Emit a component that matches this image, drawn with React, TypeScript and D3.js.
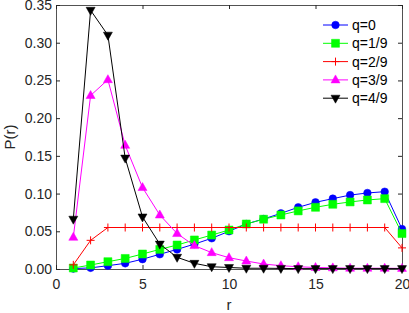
import React, { useRef, useEffect } from "react";
import * as d3 from "d3";

const rValues = d3.range(1, 21);
const xTicks = [0, 5, 10, 15, 20];
const yTicks = [0, 0.05, 0.1, 0.15, 0.2, 0.25, 0.3, 0.35];

const q0 = [0.0005, 0.0015, 0.0044, 0.0075, 0.013, 0.0195, 0.026, 0.033, 0.0407, 0.05, 0.0597, 0.0663, 0.0738, 0.0818, 0.0884, 0.0933, 0.098, 0.1008, 0.1025, 0.053];
const q1 = [0.0013, 0.0053, 0.0097, 0.014, 0.0199, 0.026, 0.0318, 0.0385, 0.045, 0.0517, 0.0597, 0.066, 0.0716, 0.077, 0.0818, 0.0858, 0.0889, 0.0915, 0.0933, 0.047];
const q2 = [0.0055, 0.038, 0.055, 0.055, 0.055, 0.055, 0.055, 0.055, 0.055, 0.055, 0.055, 0.055, 0.055, 0.055, 0.055, 0.055, 0.055, 0.055, 0.055, 0.028];
const q3 = [0.042, 0.23, 0.251, 0.164, 0.108, 0.0716, 0.047, 0.031, 0.0217, 0.015, 0.0106, 0.0066, 0.0044, 0.003, 0.002, 0.0015, 0.001, 0.001, 0.001, 0.0008];
const q4 = [0.066, 0.343, 0.31, 0.147, 0.069, 0.033, 0.0155, 0.0075, 0.003, 0.002, 0.001, 0.001, 0.0008, 0.0005, 0.0005, 0.0005, 0.0005, 0.0005, 0.0005, 0.0005];

const seriesNames = ["q=0", "q=1/9", "q=2/9", "q=3/9", "q=4/9"];
const seriesColors = ["#0000ff", "#00ff00", "#ff0000", "#ff00ff", "#000000"];
const seriesMarkers = ["circle", "square", "plus", "triUp", "triDown"];
const seriesValues = [q0, q1, q2, q3, q4];

const markerPath = (kind, s = 4) => {
  switch (kind) {
    case "circle":
      return d3.symbol(d3.symbolCircle, Math.PI * 3.8 * 3.8)();
    case "square":
      return `M${-s},${-s}H${s}V${s}H${-s}Z`;
    case "plus":
      return `M${-s},0H${s}M0,${-s}V${s}`;
    case "triUp":
      return `M0,${-s - 1}L${s + 0.5},${s - 1}L${-s - 0.5},${s - 1}Z`;
    case "triDown":
      return `M0,${s + 1}L${s + 0.5},${-s + 1}L${-s - 0.5},${-s + 1}Z`;
    default:
      return "";
  }
};

const App = () => {
  const svgRef = useRef();
  const width = 409;
  const height = 313;
  const margin = { top: 5, right: 7, bottom: 44, left: 56 };

  useEffect(() => {
    const svg = d3.select(svgRef.current);
    svg.selectAll("*").remove();

    const x = d3.scaleLinear().domain([0, 20]).range([margin.left, width - margin.right]);
    const y = d3.scaleLinear().domain([0, 0.35]).range([height - margin.bottom, margin.top]);
    const axisColor = "#262626";
    const font = "Liberation Sans, Arial, sans-serif";

    // axes box with inward ticks on all four sides
    const gx = svg
      .append("g")
      .attr("transform", `translate(0,${height - margin.bottom})`)
      .call(d3.axisBottom(x).tickValues(xTicks).tickSizeInner(-4).tickSizeOuter(0).tickPadding(10).tickFormat(d3.format("d")));
    const gxt = svg
      .append("g")
      .attr("transform", `translate(0,${margin.top})`)
      .call(d3.axisTop(x).tickValues(xTicks).tickSizeInner(-4).tickSizeOuter(0).tickFormat(() => ""));
    const gy = svg
      .append("g")
      .attr("transform", `translate(${margin.left},0)`)
      .call(d3.axisLeft(y).tickValues(yTicks).tickSizeInner(-4).tickSizeOuter(0).tickPadding(4).tickFormat(d3.format(".2f")));
    const gyr = svg
      .append("g")
      .attr("transform", `translate(${width - margin.right},0)`)
      .call(d3.axisRight(y).tickValues(yTicks).tickSizeInner(-4).tickSizeOuter(0).tickFormat(() => ""));

    [gx, gxt, gy, gyr].forEach((g) => {
      g.selectAll("line").attr("stroke", axisColor);
      g.select(".domain").attr("stroke", axisColor).attr("stroke-width", 0.8);
      g.selectAll("text").attr("fill", axisColor).style("font-size", "14px").style("font-family", font);
    });

    // lines and markers
    const line = d3
      .line()
      .x((d, i) => x(rValues[i]))
      .y((d) => y(d));

    seriesValues.forEach((vals, k) => {
      const color = seriesColors[k];
      svg
        .append("path")
        .datum(vals)
        .attr("fill", "none")
        .attr("stroke", color)
        .attr("stroke-width", 1)
        .attr("d", line);

      const isPlus = seriesMarkers[k] === "plus";
      svg
        .append("g")
        .selectAll("path")
        .data(vals)
        .join("path")
        .attr("transform", (d, i) => `translate(${x(rValues[i])},${y(d)})`)
        .attr("d", markerPath(seriesMarkers[k]))
        .attr("fill", isPlus ? "none" : color)
        .attr("stroke", color)
        .attr("stroke-width", isPlus ? 1 : 0.5);
    });

    // axis labels
    svg
      .append("text")
      .attr("x", x(10))
      .attr("y", height - 3)
      .attr("text-anchor", "middle")
      .attr("fill", axisColor)
      .style("font-size", "15px")
      .style("font-family", font)
      .text("r");

    svg
      .append("text")
      .attr("transform", `translate(15,${y(0.175)}) rotate(-90)`)
      .attr("text-anchor", "middle")
      .attr("fill", axisColor)
      .style("font-size", "15px")
      .style("font-family", font)
      .text("P(r)");

    // legend
    const legend = svg.append("g").attr("transform", "translate(323,25)");
    seriesNames.forEach((name, k) => {
      const row = legend.append("g").attr("transform", `translate(0,${k * 18.3})`);
      row.append("line").attr("x1", 0).attr("x2", 25).attr("stroke", seriesColors[k]).attr("stroke-width", 1);
      const isPlus = seriesMarkers[k] === "plus";
      row
        .append("path")
        .attr("transform", "translate(12.5,0)")
        .attr("d", markerPath(seriesMarkers[k]))
        .attr("fill", isPlus ? "none" : seriesColors[k])
        .attr("stroke", seriesColors[k])
        .attr("stroke-width", isPlus ? 1 : 0.5);
      row
        .append("text")
        .attr("x", 29)
        .attr("dy", "0.35em")
        .attr("fill", "#000")
        .style("font-size", "14px")
        .style("font-family", font)
        .text(name);
    });
  }, []);

  return (
    <svg
      ref={svgRef}
      width={width}
      height={height}
      style={{ position: "absolute", left: 0, top: 0, background: "#fff" }}
    ></svg>
  );
};

export default App;
